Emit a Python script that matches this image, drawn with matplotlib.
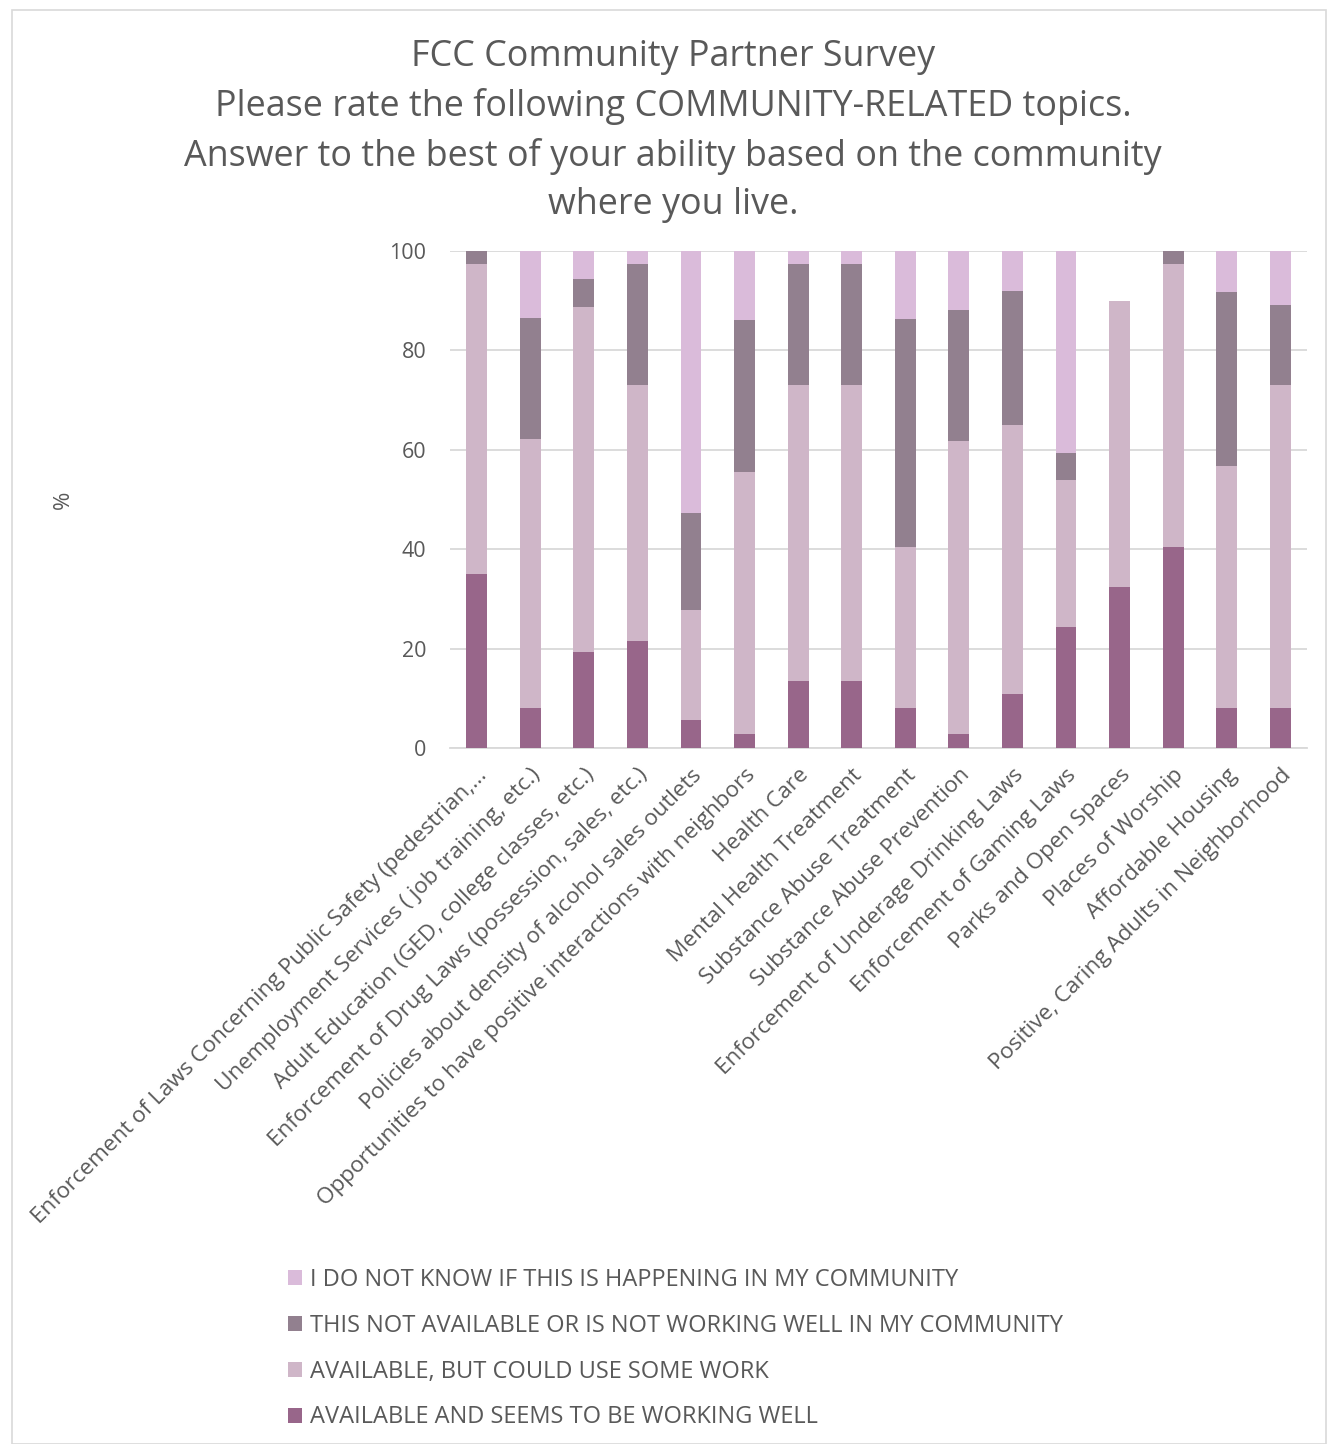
import matplotlib
matplotlib.use("Agg")
import matplotlib.pyplot as plt
from matplotlib.patches import Rectangle
import numpy as np

plt.rcParams['font.family'] = ['Open Sans', 'DejaVu Sans']

categories = [
    "Enforcement of Laws Concerning Public Safety (pedestrian,...",
    "Unemployment Services ( job training, etc.)",
    "Adult Education (GED, college classes, etc.)",
    "Enforcement of Drug Laws (possession, sales, etc.)",
    "Policies about density of alcohol sales outlets",
    "Opportunities to have positive interactions with neighbors",
    "Health Care",
    "Mental Health Treatment",
    "Substance Abuse Treatment",
    "Substance Abuse Prevention",
    "Enforcement of Underage Drinking Laws",
    "Enforcement of Gaming Laws",
    "Parks and Open Spaces",
    "Places of Worship",
    "Affordable Housing",
    "Positive, Caring Adults in Neighborhood",
]

working_well = [35.1, 8.1, 19.4, 21.6, 5.6, 2.8, 13.5, 13.5, 8.1, 2.9, 10.8, 24.3, 32.4, 40.5, 8.1, 8.1]
could_use_work = [62.2, 54.1, 69.4, 51.4, 22.2, 52.8, 59.5, 59.5, 32.4, 58.8, 54.1, 29.7, 57.6, 56.8, 48.6, 64.9]
not_available = [2.7, 24.3, 5.6, 24.3, 19.4, 30.6, 24.3, 24.3, 45.9, 26.5, 27.0, 5.4, 0.0, 2.7, 35.1, 16.2]
do_not_know = [0.0, 13.5, 5.6, 2.7, 52.8, 13.9, 2.7, 2.7, 13.5, 11.8, 8.1, 40.5, 0.0, 0.0, 8.1, 10.8]

series_names = [
    "AVAILABLE AND SEEMS TO BE WORKING WELL",
    "AVAILABLE, BUT COULD USE SOME WORK",
    "THIS NOT AVAILABLE OR IS NOT WORKING WELL IN MY COMMUNITY",
    "I DO NOT KNOW IF THIS IS HAPPENING IN MY COMMUNITY",
]
colors = ["#98668A", "#CFB6C8", "#92808F", "#DABBDA"]

title = ("FCC Community Partner Survey\n"
         "Please rate the following COMMUNITY-RELATED topics.\n"
         "Answer to the best of your ability based on the community\n"
         "where you live.")

text_color = "#595959"

fig = plt.figure(figsize=(13.27, 14.44), dpi=100)
fig.patches.append(Rectangle((12/1327, 0), 1 - 12/1327 - 0.001, 1 - 10/1444,
                             transform=fig.transFigure, fill=False,
                             edgecolor="#D9D9D9", linewidth=1.2))

ax = fig.add_axes([450/1327, 1 - 748/1444, (1307 - 450)/1327, (748 - 251)/1444])

x = np.arange(len(categories))
bottom = np.zeros(len(categories))
handles = []
for vals, name, col in zip([working_well, could_use_work, not_available, do_not_know], series_names, colors):
    v = np.array(vals)
    b = ax.bar(x, v, width=0.39, bottom=bottom, color=col, label=name, zorder=3)
    handles.append(b)
    bottom += v

ax.set_ylim(0, 100)
ax.set_xlim(-0.5, len(categories) - 0.5)
ax.set_yticks([0, 20, 40, 60, 80, 100])
ax.yaxis.grid(True, color="#D9D9D9", linewidth=1.3, zorder=0)
ax.set_axisbelow(True)
for s in ["top", "right", "left"]:
    ax.spines[s].set_visible(False)
ax.spines["bottom"].set_color("#D9D9D9")
ax.spines["bottom"].set_linewidth(1.3)
ax.tick_params(axis="both", length=0, colors=text_color, labelsize=15.5)
ax.tick_params(axis="y", pad=17)
ax.set_xticks(x)
ax.set_xticklabels(categories, rotation=45, ha="right", rotation_mode="anchor",
                   color=text_color, fontsize=16.2)
ax.tick_params(axis="x", pad=12)

fig.text(63/1327, 1 - 500/1444, "%", rotation=90, ha="center", va="center",
         color=text_color, fontsize=16)

fig.text(673/1327, 1 - 131/1444, title, ha="center", va="center",
         color=text_color, fontsize=25.8, linespacing=1.45)

leg = fig.legend(handles[::-1], series_names[::-1], loc="upper left",
                 bbox_to_anchor=(267/1327, 1 - 1247/1444), frameon=False,
                 fontsize=17, labelcolor=text_color, handlelength=0.6,
                 handleheight=0.6, handletextpad=0.3, labelspacing=0.92)

fig.savefig("out.png", dpi=100, facecolor="white")
